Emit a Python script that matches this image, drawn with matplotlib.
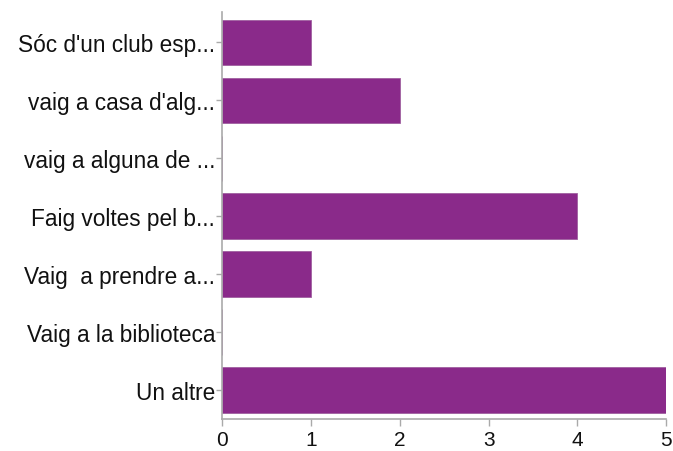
import matplotlib.pyplot as plt

categories = ["Sóc d'un club esp...", "vaig a casa d'alg...", "vaig a alguna de ...",
              "Faig voltes pel b...", "Vaig  a prendre a...", "Vaig a la biblioteca",
              "Un altre"]
values = [1, 2, 0, 4, 1, 0, 5]
xticks = [0, 1, 2, 3, 4, 5]

plt.rcParams['font.family'] = ['Liberation Sans', 'DejaVu Sans']

fig = plt.figure(figsize=(6.73, 4.52), dpi=100)
ax = fig.add_axes([0.330, 0.071, 0.660, 0.900])

pos = list(range(len(categories)))
ax.barh(pos, values, height=0.78, color='#8a2a8a', edgecolor='#a060a0', linewidth=0.6)

ax.set_ylim(len(categories) - 0.5, -0.52)
ax.set_xlim(0, 5)
ax.set_yticks(pos)
ax.set_yticklabels(categories, fontsize=16.3, color='#111111')
ax.set_xticks(xticks)
ax.set_xticklabels([str(t) for t in xticks], fontsize=15, color='#111111')

for s in ['top', 'right']:
    ax.spines[s].set_visible(False)
for s in ['left', 'bottom']:
    ax.spines[s].set_color('#aaaaaa')
    ax.spines[s].set_linewidth(1.2)
ax.tick_params(axis='both', colors='#aaaaaa', length=5, width=1, labelcolor='#111111')
ax.tick_params(axis='y', length=4, pad=1)
ax.tick_params(axis='x', pad=3)

fig.savefig('out.png', dpi=100)
